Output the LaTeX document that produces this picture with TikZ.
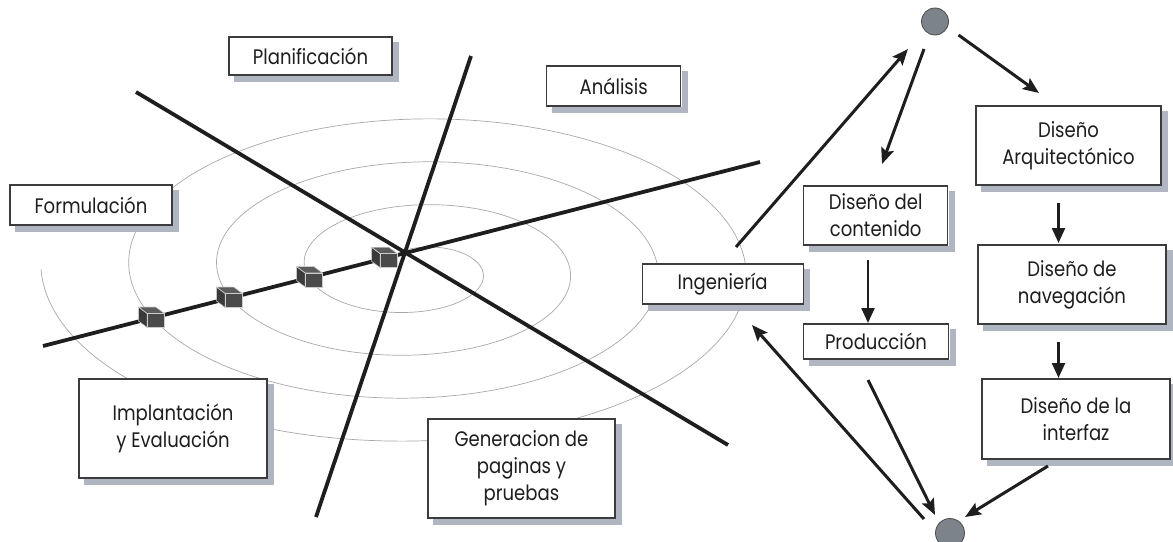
\documentclass[tikz,border=0pt]{standalone}
\usepackage{fontspec}
\setmainfont{Poppins}[FakeStretch=0.86]
\usetikzlibrary{arrows.meta,calc}
\definecolor{shadowc}{RGB}{176,182,193}
\definecolor{boxline}{HTML}{3C3C3C}
\definecolor{ink}{HTML}{1E1E1E}
\definecolor{spiralc}{HTML}{A8A8A8}
\definecolor{cubefront}{HTML}{4A4A4A}
\definecolor{cubeleft}{HTML}{3A3A3A}
\definecolor{cubetop}{HTML}{5C5C5C}
\definecolor{blobc}{HTML}{7C838B}
\newcommand\boxwithshadow[6]{%
  \node[box, minimum width=#4pt, minimum height=#5pt] (#1) at (#2,#3) {#6};
  \fill[shadowc] ($(#1.north east)+(0.6,6)$) rectangle ($(#1.south east)+(6.5,6.5)$);
  \fill[shadowc] ($(#1.south west)+(6,0.6)$) rectangle ($(#1.south east)+(6.5,6.5)$);}
\begin{document}
\begin{tikzpicture}[x=1pt,y=-1pt,
  box/.style={draw=boxline, line width=1.1pt, fill=white, align=center,
    text=ink, font=\fontsize{21}{27}\selectfont, inner sep=0pt},
  bold/.style={ink, line width=3.8pt},
  spiral/.style={spiralc, line width=0.7pt},
  arr/.style={ink, line width=3pt, -{Stealth[length=16pt,width=13pt,inset=3pt]}},
  varr/.style={ink, line width=2.4pt, -{Triangle[length=15pt,width=13pt]}},
  blob/.style={circle, draw=ink!80, line width=0.8pt, fill=blobc, minimum size=27pt, inner sep=0pt},
  cube/.pic={
    \filldraw[fill=cubeleft, draw=gray!40, line width=0.6pt] (-3.5,-3.5) -- (-11.5,-9.5) -- (-11.5,3.5) -- (-3.5,9.5) -- cycle;
    \filldraw[fill=cubetop, draw=gray!40, line width=0.6pt] (-3.5,-3.5) -- (12.5,-3.5) -- (4.5,-9.5) -- (-11.5,-9.5) -- cycle;
    \filldraw[fill=cubefront, draw=gray!40, line width=0.6pt] (-3.5,-3.5) rectangle (12.5,9.5);
  }]
\useasboundingbox (0,0) rectangle (1173,541);

% spiral
\draw[spiral] plot[domain=-18:1350, samples=700, variable=\t]
  ({415.5+(44.5+0.244444*\t)*sin(\t)}, {269.25-(21.25+0.119444*\t)*cos(\t)});

% boxes of the spiral model
\boxwithshadow{plan}{310.5}{56}{163}{38}{Planificación}
\boxwithshadow{anal}{613.7}{86}{134}{40}{Análisis}
\boxwithshadow{form}{91}{205}{162}{40}{Formulación}
\boxwithshadow{inge}{722.7}{284}{161}{40}{Ingeniería}
\boxwithshadow{impl}{173}{428.5}{188}{99}{Implantación\\y Evaluación}
\boxwithshadow{gene}{521.5}{468.5}{187}{99}{Generacion de\\paginas y\\pruebas}

% right-hand design boxes
\boxwithshadow{cont}{875.7}{215.5}{144}{59}{Diseño del\\contenido}
\boxwithshadow{prod}{876}{341.5}{145}{35}{Producción}
\boxwithshadow{arqu}{1068.5}{145.5}{185}{79}{Diseño\\Arquitectónico}
\boxwithshadow{nave}{1072}{284.5}{188}{79}{Diseño de\\navegación}
\boxwithshadow{intf}{1076}{419}{188}{80}{Diseño de la\\interfaz}

% axes
\coordinate (l1a) at (136,92);  \coordinate (l1b) at (728,445);
\coordinate (l2a) at (471,56);  \coordinate (l2b) at (316,517);
\coordinate (l3a) at (43,346);  \coordinate (l3b) at (760,162);
\draw[bold] (l1a) -- (l1b);
\draw[bold] (l2a) -- (l2b);
\draw[bold] (l3a) -- (l3b);

% cubes
\pic[scale=1.08] at (151,317.3) {cube};
\pic[scale=1.08] at (229,297.3) {cube};
\pic[scale=1.08] at (309,276.8) {cube};
\pic[scale=1.08] at (384,257.5) {cube};

% blobs
\node[blob] (top) at (935,21.5) {};
\node[blob, minimum size=29pt] (bot) at (950,533) {};

% connectors
\coordinate (a1s) at (736,247);   \coordinate (a1e) at (908,49);
\coordinate (a2s) at (924,49);    \coordinate (a2e) at (882,164);
\coordinate (a3s) at (958.5,35);  \coordinate (a3e) at (1039,93);
\coordinate (a4s) at (868,260);   \coordinate (a4e) at (868,323);
\coordinate (a5s) at (1058.5,203);\coordinate (a5e) at (1058.5,243);
\coordinate (a6s) at (1058.5,342);\coordinate (a6e) at (1058.5,378);
\coordinate (a7s) at (924,519);   \coordinate (a7e) at (752,325);
\coordinate (a8s) at (868,380);   \coordinate (a8e) at (935,515);
\coordinate (a9s) at (1048,466);  \coordinate (a9e) at (965,517);
\draw[arr] (a1s) -- (a1e);
\draw[arr] (a2s) -- (a2e);
\draw[arr] (a3s) -- (a3e);
\draw[varr] (a4s) -- (a4e);
\draw[varr] (a5s) -- (a5e);
\draw[varr] (a6s) -- (a6e);
\draw[arr] (a7s) -- (a7e);
\draw[arr] (a8s) -- (a8e);
\draw[arr] (a9s) -- (a9e);
\end{tikzpicture}
\end{document}
